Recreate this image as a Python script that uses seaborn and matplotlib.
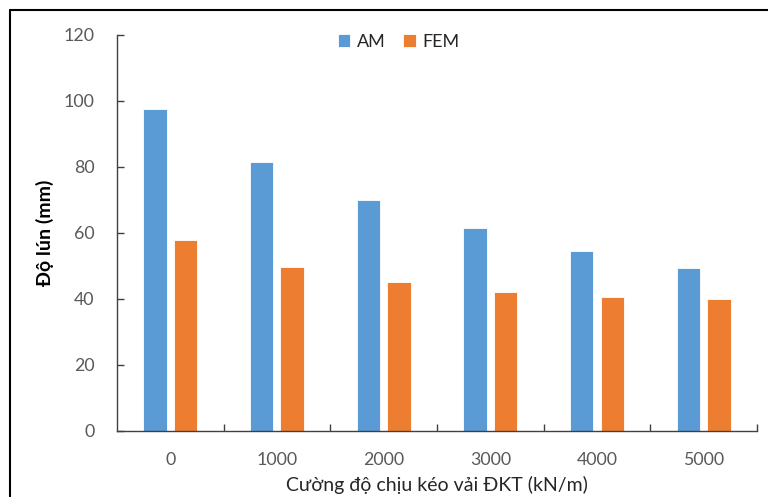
import matplotlib
matplotlib.use("Agg")
import matplotlib.pyplot as plt
import seaborn as sns
import pandas as pd
from matplotlib.lines import Line2D

categories = ["0", "1000", "2000", "3000", "4000", "5000"]
am_values = [97.4, 81.4, 69.8, 61.4, 54.5, 49.2]
fem_values = [57.7, 49.6, 45.0, 42.0, 40.5, 39.9]
series_names = ["AM", "FEM"]
y_ticks = [0, 20, 40, 60, 80, 100, 120]

df = pd.DataFrame({
    "cat": categories * 2,
    "val": am_values + fem_values,
    "series": [series_names[0]] * len(categories) + [series_names[1]] * len(categories),
})

sns.set_theme(style="white")
plt.rcParams["font.family"] = ["Lato", "DejaVu Sans"]

fig = plt.figure(figsize=(7.68, 4.97), dpi=100)
ax = fig.add_axes([0.1523, 0.1334, 0.8334, 0.7968])

palette = {"AM": "#5B9BD5", "FEM": "#ED7D31"}
sns.barplot(data=df, x="cat", y="val", hue="series", order=categories,
            hue_order=series_names, palette=palette, width=0.573, gap=0.23,
            edgecolor="white", linewidth=0.6, saturation=1, ax=ax, legend=True)

ax.set_ylim(0, 120)
ax.set_xlim(-0.5, len(categories) - 0.5)
ax.set_yticks(y_ticks)
ax.set_yticklabels([str(t) for t in y_ticks])
for s in ["top", "right"]:
    ax.spines[s].set_visible(False)
ax.spines["left"].set_color("#404040")
ax.spines["bottom"].set_color("#404040")
ax.spines["left"].set_linewidth(1.0)
ax.spines["bottom"].set_linewidth(1.0)

ax.tick_params(axis="y", direction="in", length=5, width=1, color="#404040",
               pad=16, labelsize=12.8, labelcolor="#595959", left=True)
ax.tick_params(axis="x", which="major", length=0, pad=15, labelsize=12.8,
               labelcolor="#595959")
ax.set_xticks([i + 0.5 for i in range(len(categories) - 1)] + [len(categories) - 0.5], minor=True)
ax.tick_params(axis="x", which="minor", direction="in", length=5, width=1,
               color="#404040", bottom=True)

ax.set_xlabel("Cường độ chịu kéo vải ĐKT (kN/m)", fontsize=14, color="#262626", labelpad=6)
ax.set_ylabel("Độ lún (mm)", fontsize=14, fontweight="bold", color="black", labelpad=7)

leg = ax.legend(loc="center", bbox_to_anchor=(0.44, 0.982), ncol=2, frameon=False,
                fontsize=13, handlelength=0.7, handleheight=0.7, handletextpad=0.35,
                columnspacing=1.0, borderpad=0)
for t in leg.get_texts():
    t.set_color("#262626")

# outer chart border (cropped at right/bottom)
fig.add_artist(Line2D([10 / 768, 10 / 768], [0, 1 - 10 / 497], transform=fig.transFigure,
                      color="black", linewidth=1.5))
fig.add_artist(Line2D([10 / 768, 1.0], [1 - 10 / 497, 1 - 10 / 497], transform=fig.transFigure,
                      color="black", linewidth=1.5))

fig.savefig("out.png", dpi=100)
